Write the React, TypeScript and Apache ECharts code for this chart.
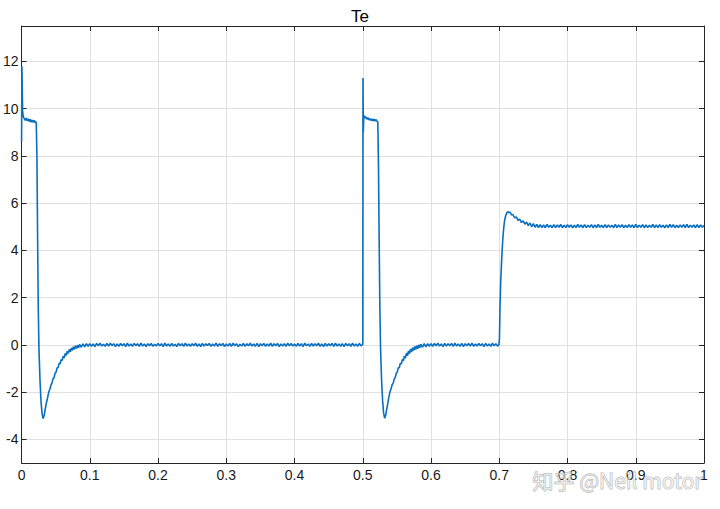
import React, { useEffect, useRef } from "react";
import * as echarts from "echarts";

const chartTitle = "Te";
const xTickValues = [0, 0.1, 0.2, 0.3, 0.4, 0.5, 0.6, 0.7, 0.8, 0.9, 1];
const yTickValues = [-4, -2, 0, 2, 4, 6, 8, 10, 12];

const firstPulse: [number, number][] = [
  [0, 8.6], [0.0005, 11.8], [0.0015, 9.9], [0.0025, 9.65], [0.004, 9.58], [0.0055, 9.5],
  [0.007, 9.6], [0.0085, 9.48], [0.01, 9.57], [0.0115, 9.45], [0.013, 9.55], [0.0145, 9.43],
  [0.016, 9.52], [0.0175, 9.42], [0.019, 9.5], [0.0205, 9.4], [0.0215, 9.45],
];

const firstDip: [number, number][] = [
  [0.0225, 8.0], [0.0235, 4.5], [0.0245, 1.5], [0.0255, -0.2], [0.027, -1.5], [0.0285, -2.4],
  [0.03, -2.9], [0.0315, -3.12], [0.033, -3.0], [0.0345, -2.75], [0.036, -2.5], [0.038, -2.25],
  [0.04, -1.98], [0.0415, -1.88], [0.043, -1.7], [0.0445, -1.62], [0.046, -1.44], [0.0475, -1.4],
  [0.049, -1.2], [0.0505, -1.16], [0.052, -0.98], [0.0535, -0.96], [0.055, -0.78], [0.0565, -0.8],
  [0.058, -0.62], [0.0595, -0.66], [0.061, -0.48], [0.0625, -0.55], [0.064, -0.36], [0.0655, -0.45],
  [0.067, -0.27], [0.0685, -0.36], [0.07, -0.19], [0.0715, -0.29], [0.073, -0.13], [0.0745, -0.23],
  [0.076, -0.08], [0.0775, -0.19], [0.079, -0.04], [0.0805, -0.15], [0.082, -0.01], [0.0835, -0.12],
  [0.085, 0.02], [0.0875, -0.1], [0.09, 0.04], [0.0925, -0.08], [0.095, 0.05], [0.0975, -0.06],
];

const zeroPlateauA: [number, number][] = [
  [0.1, 0.05], [0.1025, -0.06], [0.105, 0.04], [0.1075, -0.07], [0.11, 0.06], [0.1125, -0.04], [0.115, 0.07], [0.1175, -0.05], [0.12, 0.03], [0.1225, -0.06],
  [0.125, 0.06], [0.1275, -0.05], [0.13, 0.07], [0.1325, -0.03], [0.135, 0.05], [0.1375, -0.07], [0.14, 0.04], [0.1425, -0.06], [0.145, 0.06], [0.1475, -0.04],
  [0.15, 0.05], [0.1525, -0.07], [0.155, 0.07], [0.1575, -0.05], [0.16, 0.04], [0.1625, -0.06], [0.165, 0.06], [0.1675, -0.03], [0.17, 0.05], [0.1725, -0.06],
  [0.175, 0.07], [0.1775, -0.05], [0.18, 0.04], [0.1825, -0.07], [0.185, 0.05], [0.1875, -0.04], [0.19, 0.06], [0.1925, -0.06], [0.195, 0.03], [0.1975, -0.05],
  [0.2, 0.06], [0.2025, -0.04], [0.205, 0.05], [0.2075, -0.07], [0.21, 0.07], [0.2125, -0.05], [0.215, 0.04], [0.2175, -0.06], [0.22, 0.06], [0.2225, -0.05],
  [0.225, 0.03], [0.2275, -0.07], [0.23, 0.06], [0.2325, -0.04], [0.235, 0.05], [0.2375, -0.06], [0.24, 0.07], [0.2425, -0.05], [0.245, 0.04], [0.2475, -0.06],
  [0.25, 0.05], [0.2525, -0.04], [0.255, 0.07], [0.2575, -0.06], [0.26, 0.04], [0.2625, -0.07], [0.265, 0.06], [0.2675, -0.05], [0.27, 0.05], [0.2725, -0.03],
  [0.275, 0.06], [0.2775, -0.06], [0.28, 0.04], [0.2825, -0.05], [0.285, 0.07], [0.2875, -0.06], [0.29, 0.05], [0.2925, -0.04], [0.295, 0.06], [0.2975, -0.07],
  [0.3, 0.04], [0.3025, -0.05], [0.305, 0.06], [0.3075, -0.06], [0.31, 0.07], [0.3125, -0.04], [0.315, 0.05], [0.3175, -0.07], [0.32, 0.03], [0.3225, -0.05],
  [0.325, 0.06], [0.3275, -0.06], [0.33, 0.05], [0.3325, -0.04], [0.335, 0.07], [0.3375, -0.05], [0.34, 0.04], [0.3425, -0.06], [0.345, 0.06], [0.3475, -0.07],
  [0.35, 0.05], [0.3525, -0.04], [0.355, 0.06], [0.3575, -0.06], [0.36, 0.04], [0.3625, -0.05], [0.365, 0.07], [0.3675, -0.06], [0.37, 0.05], [0.3725, -0.04],
  [0.375, 0.06], [0.3775, -0.07], [0.38, 0.04], [0.3825, -0.05], [0.385, 0.05], [0.3875, -0.06], [0.39, 0.07], [0.3925, -0.04], [0.395, 0.06], [0.3975, -0.05],
  [0.4, 0.04], [0.4025, -0.06], [0.405, 0.06], [0.4075, -0.05], [0.41, 0.05], [0.4125, -0.07], [0.415, 0.07], [0.4175, -0.04], [0.42, 0.04], [0.4225, -0.06],
  [0.425, 0.06], [0.4275, -0.05], [0.43, 0.05], [0.4325, -0.04], [0.435, 0.07], [0.4375, -0.06], [0.44, 0.04], [0.4425, -0.07], [0.445, 0.06], [0.4475, -0.05],
  [0.45, 0.05], [0.4525, -0.04], [0.455, 0.06], [0.4575, -0.06], [0.46, 0.07], [0.4625, -0.05], [0.465, 0.04], [0.4675, -0.06], [0.47, 0.05], [0.4725, -0.07],
  [0.475, 0.06], [0.4775, -0.04], [0.48, 0.05], [0.4825, -0.06], [0.485, 0.07], [0.4875, -0.05], [0.49, 0.04], [0.4925, -0.06], [0.495, 0.06], [0.4975, -0.04],
  [0.5, 0.02],
];

const secondPulse: [number, number][] = [
  [0.5003, 11.3], [0.5008, 9.0], [0.5015, 9.72], [0.503, 9.6], [0.5045, 9.66], [0.506, 9.55],
  [0.5075, 9.62], [0.509, 9.52], [0.5105, 9.58], [0.512, 9.5], [0.5135, 9.57], [0.515, 9.48],
  [0.5165, 9.56], [0.518, 9.47], [0.5195, 9.54], [0.521, 9.46], [0.522, 9.45],
];

const secondDip: [number, number][] = [
  [0.523, 7.6], [0.524, 4.4], [0.525, 1.6], [0.526, -0.1], [0.5275, -1.45], [0.529, -2.35],
  [0.5305, -2.88], [0.532, -3.1], [0.5335, -2.98], [0.535, -2.74], [0.5365, -2.5], [0.538, -2.24],
  [0.54, -1.97], [0.5415, -1.86], [0.543, -1.69], [0.5445, -1.63], [0.546, -1.45], [0.5475, -1.38],
  [0.549, -1.21], [0.5505, -1.15], [0.552, -0.97], [0.5535, -0.97], [0.555, -0.77], [0.5565, -0.81],
  [0.558, -0.61], [0.5595, -0.67], [0.561, -0.47], [0.5625, -0.56], [0.564, -0.35], [0.5655, -0.46],
  [0.567, -0.26], [0.5685, -0.37], [0.57, -0.18], [0.5715, -0.3], [0.573, -0.12], [0.5745, -0.24],
  [0.576, -0.07], [0.5775, -0.2], [0.579, -0.03], [0.5805, -0.16], [0.582, 0.0], [0.5835, -0.12],
  [0.585, 0.03], [0.5875, -0.1], [0.59, 0.05], [0.5925, -0.08], [0.595, 0.05], [0.5975, -0.06],
];

const zeroPlateauB: [number, number][] = [
  [0.6, 0.05], [0.6025, -0.06], [0.605, 0.06], [0.6075, -0.04], [0.61, 0.07], [0.6125, -0.05], [0.615, 0.04], [0.6175, -0.07], [0.62, 0.06], [0.6225, -0.05],
  [0.625, 0.05], [0.6275, -0.04], [0.63, 0.06], [0.6325, -0.06], [0.635, 0.07], [0.6375, -0.05], [0.64, 0.04], [0.6425, -0.06], [0.645, 0.06], [0.6475, -0.07],
  [0.65, 0.05], [0.6525, -0.04], [0.655, 0.06], [0.6575, -0.05], [0.66, 0.07], [0.6625, -0.06], [0.665, 0.04], [0.6675, -0.05], [0.67, 0.06], [0.6725, -0.04],
  [0.675, 0.05], [0.6775, -0.07], [0.68, 0.06], [0.6825, -0.05], [0.685, 0.04], [0.6875, -0.06], [0.69, 0.07], [0.6925, -0.04], [0.695, 0.05], [0.6975, -0.05],
  [0.6995, 0.0],
];

const stepRise: [number, number][] = [
  [0.7003, 0.3], [0.701, 1.5], [0.702, 2.6], [0.7035, 3.6], [0.705, 4.4], [0.7065, 4.95],
  [0.708, 5.3], [0.7095, 5.48], [0.711, 5.58], [0.7125, 5.64], [0.714, 5.6], [0.716, 5.62],
  [0.718, 5.5], [0.72, 5.52], [0.7225, 5.38], [0.725, 5.42], [0.7275, 5.27], [0.73, 5.32],
  [0.7325, 5.18], [0.735, 5.25], [0.7375, 5.11], [0.74, 5.2], [0.7425, 5.05], [0.745, 5.16],
  [0.7475, 5.0], [0.75, 5.13], [0.7525, 4.98], [0.755, 5.1], [0.7575, 4.97],
];

const fivePlateau: [number, number][] = [
  [0.76, 5.09], [0.7625, 4.97], [0.765, 5.08], [0.7675, 4.96], [0.77, 5.1], [0.7725, 4.98], [0.775, 5.07], [0.7775, 4.96], [0.78, 5.09], [0.7825, 4.97],
  [0.785, 5.08], [0.7875, 4.98], [0.79, 5.1], [0.7925, 4.96], [0.795, 5.07], [0.7975, 4.97], [0.8, 5.09], [0.8025, 4.98], [0.805, 5.08], [0.8075, 4.96],
  [0.81, 5.07], [0.8125, 4.97], [0.815, 5.1], [0.8175, 4.98], [0.82, 5.08], [0.8225, 4.96], [0.825, 5.09], [0.8275, 4.97], [0.83, 5.07], [0.8325, 4.98],
  [0.835, 5.09], [0.8375, 4.96], [0.84, 5.08], [0.8425, 4.97], [0.845, 5.1], [0.8475, 4.98], [0.85, 5.07], [0.8525, 4.96], [0.855, 5.09], [0.8575, 4.97],
  [0.86, 5.08], [0.8625, 4.98], [0.865, 5.07], [0.8675, 4.96], [0.87, 5.1], [0.8725, 4.97], [0.875, 5.08], [0.8775, 4.98], [0.88, 5.09], [0.8825, 4.96],
  [0.885, 5.07], [0.8875, 4.97], [0.89, 5.09], [0.8925, 4.98], [0.895, 5.08], [0.8975, 4.96], [0.9, 5.1], [0.9025, 4.97], [0.905, 5.07], [0.9075, 4.98],
  [0.91, 5.09], [0.9125, 4.96], [0.915, 5.08], [0.9175, 4.97], [0.92, 5.07], [0.9225, 4.98], [0.925, 5.1], [0.9275, 4.96], [0.93, 5.08], [0.9325, 4.97],
  [0.935, 5.09], [0.9375, 4.98], [0.94, 5.07], [0.9425, 4.96], [0.945, 5.08], [0.9475, 4.97], [0.95, 5.1], [0.9525, 4.98], [0.955, 5.09], [0.9575, 4.96],
  [0.96, 5.07], [0.9625, 4.97], [0.965, 5.08], [0.9675, 4.98], [0.97, 5.09], [0.9725, 4.96], [0.975, 5.1], [0.9775, 4.97], [0.98, 5.07], [0.9825, 4.98],
  [0.985, 5.08], [0.9875, 4.96], [0.99, 5.09], [0.9925, 4.97], [0.995, 5.08], [0.9975, 4.98], [1.0, 5.06],
];

const teSeries = [
  ...firstPulse, ...firstDip, ...zeroPlateauA, ...secondPulse,
  ...secondDip, ...zeroPlateauB, ...stepRise, ...fivePlateau,
];

const AXIS_COLOR = "#262626";
const GRID_COLOR = "#e0e0e0";
const LINE_COLOR = "#0b6fbf";
const FONT = "'Liberation Sans', Arial, Helvetica, sans-serif";

export default function App() {
  const ref = useRef<HTMLDivElement>(null);
  useEffect(() => {
    if (!ref.current) return;
    const chart = echarts.init(ref.current, null, { renderer: "svg" });
    const baseX = {
      type: "value" as const,
      min: 0,
      max: 1,
      interval: 0.1,
      axisLine: { show: true, onZero: false, lineStyle: { color: AXIS_COLOR, width: 1 } },
      axisTick: { show: true, inside: true, length: 5, lineStyle: { color: AXIS_COLOR } },
    };
    const baseY = {
      type: "value" as const,
      min: -5,
      max: 13.5,
      interval: 1,
      axisLine: { show: true, onZero: false, lineStyle: { color: AXIS_COLOR, width: 1 } },
      axisTick: { show: true, inside: true, length: 5, customValues: yTickValues, lineStyle: { color: AXIS_COLOR } },
    };
    chart.setOption({
      animation: false,
      backgroundColor: "#ffffff",
      title: {
        text: chartTitle,
        left: "center",
        top: 3,
        textStyle: { fontFamily: FONT, fontSize: 17, fontWeight: "normal", color: "#000" },
      },
      grid: { left: 19, right: 16, top: 26, bottom: 46, containLabel: false },
      xAxis: [
        {
          ...baseX,
          position: "bottom",
          axisLabel: {
            show: true,
            customValues: xTickValues,
            margin: 5,
            color: "#1a1a1a",
            fontFamily: FONT,
            fontSize: 14,
            formatter: (v: number) => String(Math.round(v * 10) / 10),
          },
          splitLine: { show: true, lineStyle: { color: GRID_COLOR, width: 1 } },
        },
        {
          ...baseX,
          position: "top",
          axisLabel: { show: false },
          splitLine: { show: false },
        },
      ],
      yAxis: [
        {
          ...baseY,
          position: "left",
          axisLabel: {
            show: true,
            customValues: yTickValues,
            margin: 3,
            color: "#1a1a1a",
            fontFamily: FONT,
            fontSize: 14,
          },
          splitLine: { show: true, lineStyle: { color: GRID_COLOR, width: 1 } },
        },
        {
          ...baseY,
          position: "right",
          axisLabel: { show: false },
          splitLine: { show: false },
        },
      ],
      graphic: [
        {
          type: "text",
          right: 17,
          top: 469,
          z: 100,
          style: {
            text: "知乎 @Neil motor",
            font: "21px 'Noto Sans CJK SC', 'Noto Sans', sans-serif",
            fill: "rgba(255,255,255,0.45)",
            stroke: "rgba(165,165,165,0.75)",
            lineWidth: 1,
          },
        },
      ],
      series: [
        {
          type: "line",
          xAxisIndex: 0,
          yAxisIndex: 0,
          data: teSeries,
          showSymbol: false,
          symbol: "none",
          lineStyle: { color: LINE_COLOR, width: 1.6 },
          z: 5,
        },
      ],
    });
    return () => chart.dispose();
  }, []);
  return (
    <div
      ref={ref}
      style={{ position: "fixed", left: 0, top: 0, width: 720, height: 509, background: "#fff" }}
    />
  );
}
